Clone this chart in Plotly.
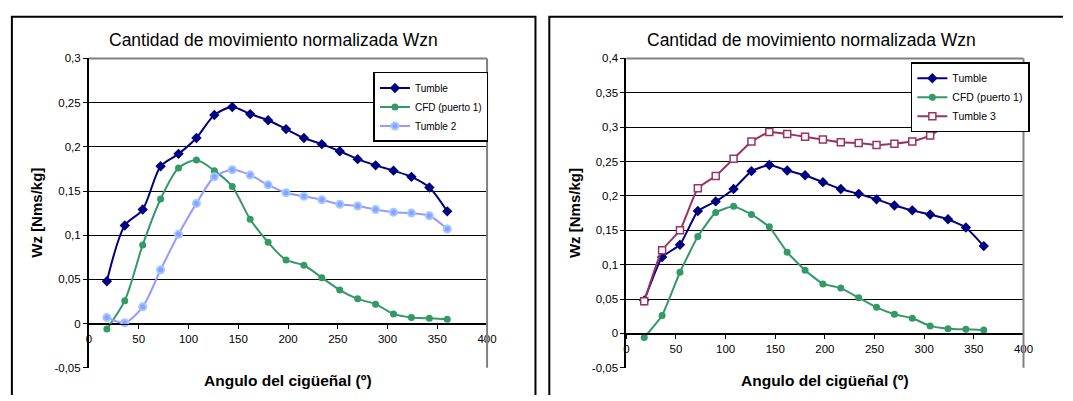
import plotly.graph_objects as go

# ---- data ----
angles = [18, 36, 54, 72, 90, 108, 126, 144, 162, 180, 198, 216, 234, 252, 270, 288, 306, 324, 342, 360]
tumble = [0.048, 0.111, 0.129, 0.178, 0.192, 0.210, 0.236, 0.245, 0.237, 0.230, 0.220, 0.210, 0.203,
          0.195, 0.186, 0.179, 0.173, 0.166, 0.154, 0.127]
cfd = [-0.006, 0.026, 0.089, 0.141, 0.176, 0.185, 0.173, 0.155, 0.118, 0.092, 0.072, 0.066, 0.052,
       0.038, 0.028, 0.022, 0.011, 0.007, 0.006, 0.005]
tumble2 = [0.007, 0.001, 0.019, 0.061, 0.101, 0.136, 0.166, 0.174, 0.168, 0.157, 0.148, 0.144, 0.140,
           0.135, 0.133, 0.129, 0.126, 0.125, 0.122, 0.107]
tumble3 = [0.047, 0.121, 0.150, 0.211, 0.229, 0.254, 0.279, 0.293, 0.290, 0.286, 0.282, 0.278, 0.277,
           0.274, 0.276, 0.279, 0.288, 0.305, 0.330, 0.360]

x_ticks = [0, 50, 100, 150, 200, 250, 300, 350, 400]
x_ticktext = ["0", "50", "100", "150", "200", "250", "300", "350", "400"]
y1_ticks = [-0.05, 0, 0.05, 0.1, 0.15, 0.2, 0.25, 0.3]
y1_ticktext = ["-0,05", "0", "0,05", "0,1", "0,15", "0,2", "0,25", "0,3"]
y2_ticks = [-0.05, 0, 0.05, 0.1, 0.15, 0.2, 0.25, 0.3, 0.35, 0.4]
y2_ticktext = ["-0,05", "0", "0,05", "0,1", "0,15", "0,2", "0,25", "0,3", "0,35", "0,4"]

title_text = "Cantidad de movimiento normalizada Wzn"
xtitle = "Angulo del cigüeñal (º)"
ytitle = "Wz [Nms/kg]"

W, H = 1073, 401
FONT = "Liberation Sans, Arial, sans-serif"

def px(x):
    return x / W

def py(y):
    return 1 - y / H

NAVY = "#000080"
GREEN = "#339966"
LAV = "#9999FF"
LBLUE = "#99CCFF"
PLUM = "#993366"

fig = go.Figure()

# left chart
fig.add_trace(go.Scatter(x=angles, y=tumble, name="Tumble", mode="lines+markers",
                         line=dict(color=NAVY, width=2, shape="spline", smoothing=0.8),
                         marker=dict(symbol="diamond", size=8, color=NAVY),
                         xaxis="x", yaxis="y", legend="legend"))
fig.add_trace(go.Scatter(x=angles, y=cfd, name="CFD (puerto 1)", mode="lines+markers",
                         line=dict(color=GREEN, width=2, shape="spline", smoothing=0.8),
                         marker=dict(symbol="circle", size=7, color=GREEN),
                         xaxis="x", yaxis="y", legend="legend"))
fig.add_trace(go.Scatter(x=angles, y=tumble2, name="Tumble 2", mode="lines+markers",
                         line=dict(color=LAV, width=2, shape="spline", smoothing=0.8),
                         marker=dict(symbol="circle", size=7, color=LAV, line=dict(color=LBLUE, width=2)),
                         xaxis="x", yaxis="y", legend="legend"))

# right chart
fig.add_trace(go.Scatter(x=angles, y=tumble, name="Tumble", mode="lines+markers",
                         line=dict(color=NAVY, width=2, shape="spline", smoothing=0.4),
                         marker=dict(symbol="diamond", size=8, color=NAVY),
                         xaxis="x2", yaxis="y2", legend="legend2"))
fig.add_trace(go.Scatter(x=angles, y=cfd, name="CFD (puerto 1)", mode="lines+markers",
                         line=dict(color=GREEN, width=2, shape="spline", smoothing=0.4),
                         marker=dict(symbol="circle", size=7, color=GREEN),
                         xaxis="x2", yaxis="y2", legend="legend2"))
fig.add_trace(go.Scatter(x=angles, y=tumble3, name="Tumble 3", mode="lines+markers",
                         line=dict(color=PLUM, width=2, shape="spline", smoothing=0.4),
                         marker=dict(symbol="square", size=7, color="white", line=dict(color=PLUM, width=1.5)),
                         xaxis="x2", yaxis="y2", legend="legend2"))

ybot, ytop = py(373), py(54)
L_x0, L_x1 = px(87), px(490)
R_x0, R_x1 = px(631), px(1033)
hgt = ytop - ybot
pos1 = ybot + hgt * (0.05 / 0.35)
pos2 = ybot + hgt * (0.05 / 0.45)

tickfont = dict(family=FONT, size=11.5, color="black")
xcommon = dict(range=[0, 400], tickvals=x_ticks, ticktext=x_ticktext, showgrid=False, zeroline=False,
               showline=True, linecolor="black", linewidth=1.5, ticks="outside", ticklen=4,
               tickcolor="black", tickfont=tickfont, anchor="free", fixedrange=True)
ycommon = dict(showgrid=True, gridcolor="black", gridwidth=1, zeroline=False, showline=True,
               linecolor="black", linewidth=2, ticks="outside", ticklen=4, tickcolor="black",
               tickfont=tickfont, domain=[ybot, ytop], fixedrange=True)

fig.update_layout(
    width=W, height=H,
    margin=dict(l=0, r=0, t=0, b=0),
    paper_bgcolor="white", plot_bgcolor="white",
    font=dict(family=FONT, color="black"),
    xaxis=dict(domain=[L_x0, L_x1], position=pos1, **xcommon),
    yaxis=dict(range=[-0.05, 0.3], tickvals=y1_ticks, ticktext=y1_ticktext, anchor="x", **ycommon),
    xaxis2=dict(domain=[R_x0, R_x1], position=pos2, **xcommon),
    yaxis2=dict(range=[-0.05, 0.4], tickvals=y2_ticks, ticktext=y2_ticktext, anchor="x2", **ycommon),
    legend=dict(x=px(375), y=py(68), xanchor="left", yanchor="top", bgcolor="white",
                bordercolor="black", borderwidth=1.5, font=dict(family=FONT, size=10),
                tracegroupgap=0, itemwidth=30),
    legend2=dict(x=px(919), y=py(58), xanchor="left", yanchor="top", bgcolor="white",
                 bordercolor="black", borderwidth=1.5, font=dict(family=FONT, size=10.5),
                 tracegroupgap=0, itemwidth=30),
    showlegend=True,
)

shapes = []
# outer frames (bottom / right sides fall outside the view in the reference)
def frame_path(x0, x1, ytopf):
    return f"M {x0},0 L {x0},{ytopf} L {x1},{ytopf}" + ("" if x1 >= 1 else f" L {x1},0")

shapes.append(dict(type="path", xref="paper", yref="paper", path=frame_path(px(9), px(539), py(11)),
                   line=dict(color="black", width=2)))
shapes.append(dict(type="path", xref="paper", yref="paper", path=frame_path(px(553), 1.0, py(11)),
                   line=dict(color="black", width=2)))
# plot area borders (gray top/right)
for x0, x1 in [(L_x0, L_x1), (R_x0, R_x1)]:
    shapes.append(dict(type="line", xref="paper", yref="paper", x0=x0, x1=x1, y0=ytop, y1=ytop,
                       line=dict(color="#808080", width=2)))
    shapes.append(dict(type="line", xref="paper", yref="paper", x0=x1, x1=x1, y0=ybot, y1=ytop,
                       line=dict(color="#808080", width=2)))
fig.update_layout(shapes=shapes)

ann = []
for cx, xc in [(px(274), (L_x0 + L_x1) / 2), (px(818), (R_x0 + R_x1) / 2)]:
    ann.append(dict(text=title_text, x=cx, y=py(35), xref="paper", yref="paper", showarrow=False,
                    xanchor="center", yanchor="middle", font=dict(family=FONT, size=17.5)))
    ann.append(dict(text="<b>" + xtitle + "</b>", x=xc, y=py(386), xref="paper", yref="paper",
                    showarrow=False, xanchor="center", yanchor="middle", font=dict(family=FONT, size=15.5)))
for yx in [px(34), px(578)]:
    ann.append(dict(text="<b>" + ytitle + "</b>", x=yx, y=(ybot + ytop) / 2, xref="paper", yref="paper",
                    showarrow=False, xanchor="center", yanchor="middle", textangle=-90,
                    font=dict(family=FONT, size=15)))
fig.update_layout(annotations=ann)

post = ("document.documentElement.style.margin='0';document.body.style.margin='0';"
        "document.body.style.overflow='hidden';document.documentElement.style.overflow='hidden';"
        "var gd=document.getElementById('{plot_id}');"
        "gd.style.width=window.innerWidth+'px';gd.style.height=window.innerHeight+'px';"
        "Plotly.relayout(gd,{width:window.innerWidth,height:window.innerHeight});")

fig.write_html("out.html", config={"displayModeBar": False, "staticPlot": True}, post_script=post)
